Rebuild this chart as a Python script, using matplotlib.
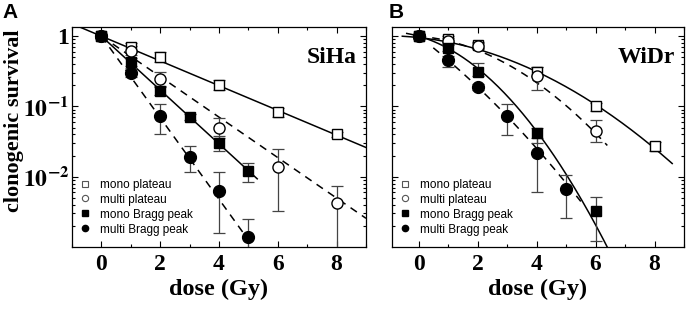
import numpy as np
import matplotlib
matplotlib.use("Agg")
import matplotlib.pyplot as plt
from matplotlib.lines import Line2D
from matplotlib.ticker import LogLocator, NullFormatter, MultipleLocator

plt.rcParams["mathtext.fontset"] = "stix"

# ---- SiHa (panel A) ----
siha_mono_plat_dose = [0, 1, 2, 4, 6, 8]
siha_mono_plat_surv = [1.0, 0.70, 0.50, 0.20, 0.082, 0.040]
siha_mono_plat_lo = [0.05, 0.11, 0.07, 0.03, 0.011, 0.003]
siha_mono_plat_hi = [0.05, 0.10, 0.09, 0.04, 0.013, 0.003]

siha_multi_plat_dose = [0, 1, 2, 4, 6, 8]
siha_multi_plat_surv = [1.0, 0.62, 0.245, 0.049, 0.0138, 0.0042]
siha_multi_plat_lo = [0.05, 0.08, 0.05, 0.014, 0.0105, 0.0035]
siha_multi_plat_hi = [0.05, 0.10, 0.06, 0.020, 0.011, 0.0033]

siha_mono_bragg_dose = [0, 1, 2, 3, 4, 5]
siha_mono_bragg_surv = [1.0, 0.43, 0.166, 0.071, 0.030, 0.0122]
siha_mono_bragg_lo = [0.05, 0.05, 0.02, 0.006, 0.007, 0.0037]
siha_mono_bragg_hi = [0.05, 0.06, 0.025, 0.008, 0.008, 0.0037]

siha_multi_bragg_dose = [0, 1, 2, 3, 4, 5]
siha_multi_bragg_surv = [1.0, 0.30, 0.074, 0.019, 0.0063, 0.0014]
siha_multi_bragg_lo = [0.05, 0.04, 0.033, 0.0075, 0.0047, 0.0009]
siha_multi_bragg_hi = [0.05, 0.05, 0.034, 0.008, 0.0052, 0.0011]

# ---- WiDr (panel B) ----
widr_mono_plat_dose = [0, 1, 2, 4, 6, 8]
widr_mono_plat_surv = [1.0, 0.90, 0.75, 0.31, 0.100, 0.027]
widr_mono_plat_lo = [0.06, 0.07, 0.07, 0.04, 0.014, 0.004]
widr_mono_plat_hi = [0.06, 0.10, 0.08, 0.05, 0.012, 0.004]

widr_multi_plat_dose = [0, 1, 2, 4, 6]
widr_multi_plat_surv = [1.0, 0.85, 0.72, 0.27, 0.044]
widr_multi_plat_lo = [0.05, 0.07, 0.06, 0.10, 0.013]
widr_multi_plat_hi = [0.05, 0.10, 0.08, 0.09, 0.020]

widr_mono_bragg_dose = [0, 1, 2, 4, 6]
widr_mono_bragg_surv = [1.0, 0.68, 0.31, 0.042, 0.0032]
widr_mono_bragg_lo = [0.08, 0.06, 0.04, 0.012, 0.002]
widr_mono_bragg_hi = [0.05, 0.07, 0.10, 0.008, 0.002]

widr_multi_bragg_dose = [0, 1, 2, 3, 4, 5]
widr_multi_bragg_surv = [1.0, 0.46, 0.19, 0.074, 0.022, 0.0067]
widr_multi_bragg_lo = [0.05, 0.10, 0.02, 0.035, 0.016, 0.0041]
widr_multi_bragg_hi = [0.05, 0.06, 0.02, 0.034, 0.014, 0.004]

# fitted curves: log10(S) = c0 + c1*D + c2*D^2, drawn between d_start and d_end
siha_fits = {
    "mono plateau": ([0.0, -0.176, 0.0], -0.7, 9.0),
    "multi plateau": ([0.0, -0.288, 0.0], 0.0, 9.0),
    "mono Bragg peak": ([0.0, -0.383, 0.0], 0.0, 5.3),
    "multi Bragg peak": ([0.0, -0.58, 0.0], 0.0, 5.3),
}
widr_fits = {
    "mono plateau": ([-0.02, -0.045, -0.019], -0.55, 8.6),
    "multi plateau": ([0.0, -0.035, -0.0325], 0.0, 6.4),
    "mono Bragg peak": ([0.0, -0.119, -0.0547], -0.4, 6.6),
    "multi Bragg peak": ([0.0, -0.322, -0.0192], 0.5, 5.5),
}

labels = ["mono plateau", "multi plateau", "mono Bragg peak", "multi Bragg peak"]
marker_style = {
    "mono plateau": dict(marker="s", mfc="white", mec="black", ms=7),
    "multi plateau": dict(marker="o", mfc="white", mec="black", ms=8),
    "mono Bragg peak": dict(marker="s", mfc="black", mec="black", ms=7),
    "multi Bragg peak": dict(marker="o", mfc="black", mec="black", ms=8.5),
}
line_style = {
    "mono plateau": "-",
    "multi plateau": (0, (5, 4)),
    "mono Bragg peak": "-",
    "multi Bragg peak": (0, (5, 4)),
}

serif = "Liberation Serif"


def draw_panel(ax, series, fits, name, show_ylabels):
    for lab in labels:
        c, d0, d1 = fits[lab]
        dd = np.linspace(d0, d1, 200)
        ax.plot(dd, 10 ** (c[0] + c[1] * dd + c[2] * dd ** 2),
                color="black", lw=1.1, ls=line_style[lab], zorder=2)
    for lab in labels:
        dose, surv, lo, hi = series[lab]
        ax.errorbar(dose, surv, yerr=[lo, hi], fmt="none", ecolor="#444444",
                    elinewidth=0.9, capsize=4.5, capthick=0.9, zorder=3)
        ax.plot(dose, surv, ls="none", mew=1.0, zorder=4, **marker_style[lab])

    ax.set_yscale("log")
    ax.set_ylim(1e-3, 1.35)
    ax.set_xlim(-1.0, 9.0)
    ax.xaxis.set_major_locator(MultipleLocator(2))
    ax.xaxis.set_minor_locator(MultipleLocator(1))
    ax.yaxis.set_major_locator(LogLocator(base=10, numticks=10))
    ax.yaxis.set_minor_locator(LogLocator(base=10, subs=np.arange(2, 10), numticks=10))
    ax.yaxis.set_minor_formatter(NullFormatter())
    ax.tick_params(which="both", direction="in", top=True, right=True, width=0.8)
    ax.tick_params(which="major", length=4)
    ax.tick_params(which="minor", length=2)
    ax.tick_params(axis="x", pad=5)
    ax.set_xticks([0, 2, 4, 6, 8])
    ax.set_xticklabels(["0", "2", "4", "6", "8"], fontfamily=serif,
                       fontweight="bold", fontsize=17)
    ax.set_yticks([1, 0.1, 0.01])
    if show_ylabels:
        ax.set_yticklabels(["1", r"$\mathbf{10^{-1}}$", r"$\mathbf{10^{-2}}$"],
                           fontfamily=serif, fontweight="bold", fontsize=17)
        ax.tick_params(axis="y", pad=2)
    else:
        ax.set_yticklabels([])
    for s in ax.spines.values():
        s.set_linewidth(0.9)
    ax.set_xlabel("dose (Gy)", fontfamily=serif, fontweight="bold",
                  fontsize=17.5, labelpad=3)
    ax.text(0.97, 0.86, name, transform=ax.transAxes, ha="right", va="center",
            fontfamily=serif, fontweight="bold", fontsize=17)

    handles = [
        Line2D([], [], ls="none", marker="s", ms=4, mfc="white", mec="#555555", mew=0.8),
        Line2D([], [], ls="none", marker="o", ms=4.5, mfc="white", mec="#555555", mew=0.8),
        Line2D([], [], ls="none", marker="s", ms=4, mfc="black", mec="black"),
        Line2D([], [], ls="none", marker="o", ms=4.5, mfc="black", mec="black"),
    ]
    ax.legend(handles, labels, loc="lower left", frameon=False,
              prop={"family": "Liberation Sans", "size": 8.5},
              handlelength=1.0, handletextpad=0.8, labelspacing=0.25,
              borderaxespad=0.2, bbox_to_anchor=(0.0, 0.02))


siha = {
    "mono plateau": (siha_mono_plat_dose, siha_mono_plat_surv, siha_mono_plat_lo, siha_mono_plat_hi),
    "multi plateau": (siha_multi_plat_dose, siha_multi_plat_surv, siha_multi_plat_lo, siha_multi_plat_hi),
    "mono Bragg peak": (siha_mono_bragg_dose, siha_mono_bragg_surv, siha_mono_bragg_lo, siha_mono_bragg_hi),
    "multi Bragg peak": (siha_multi_bragg_dose, siha_multi_bragg_surv, siha_multi_bragg_lo, siha_multi_bragg_hi),
}
widr = {
    "mono plateau": (widr_mono_plat_dose, widr_mono_plat_surv, widr_mono_plat_lo, widr_mono_plat_hi),
    "multi plateau": (widr_multi_plat_dose, widr_multi_plat_surv, widr_multi_plat_lo, widr_multi_plat_hi),
    "mono Bragg peak": (widr_mono_bragg_dose, widr_mono_bragg_surv, widr_mono_bragg_lo, widr_mono_bragg_hi),
    "multi Bragg peak": (widr_multi_bragg_dose, widr_multi_bragg_surv, widr_multi_bragg_lo, widr_multi_bragg_hi),
}

fig = plt.figure(figsize=(6.86, 3.13), dpi=100)
ax_a = fig.add_axes([72 / 686, 1 - 247 / 313, 294 / 686, 220 / 313])
ax_b = fig.add_axes([392 / 686, 1 - 247 / 313, 292 / 686, 220 / 313])

draw_panel(ax_a, siha, siha_fits, "SiHa", True)
draw_panel(ax_b, widr, widr_fits, "WiDr", False)
ax_b.set_xlim(-0.9, 9.0)

fig.text(14 / 686, 1 - 121 / 313, "clonogenic survival", rotation=90,
         ha="center", va="center", fontfamily=serif, fontweight="bold", fontsize=16)
fig.text(2 / 686, 1 - 12 / 313, "A", ha="left", va="center",
         fontfamily="Liberation Sans", fontweight="bold", fontsize=15)
fig.text(389 / 686, 1 - 12 / 313, "B", ha="left", va="center",
         fontfamily="Liberation Sans", fontweight="bold", fontsize=15)

fig.savefig("out.png", dpi=100)
